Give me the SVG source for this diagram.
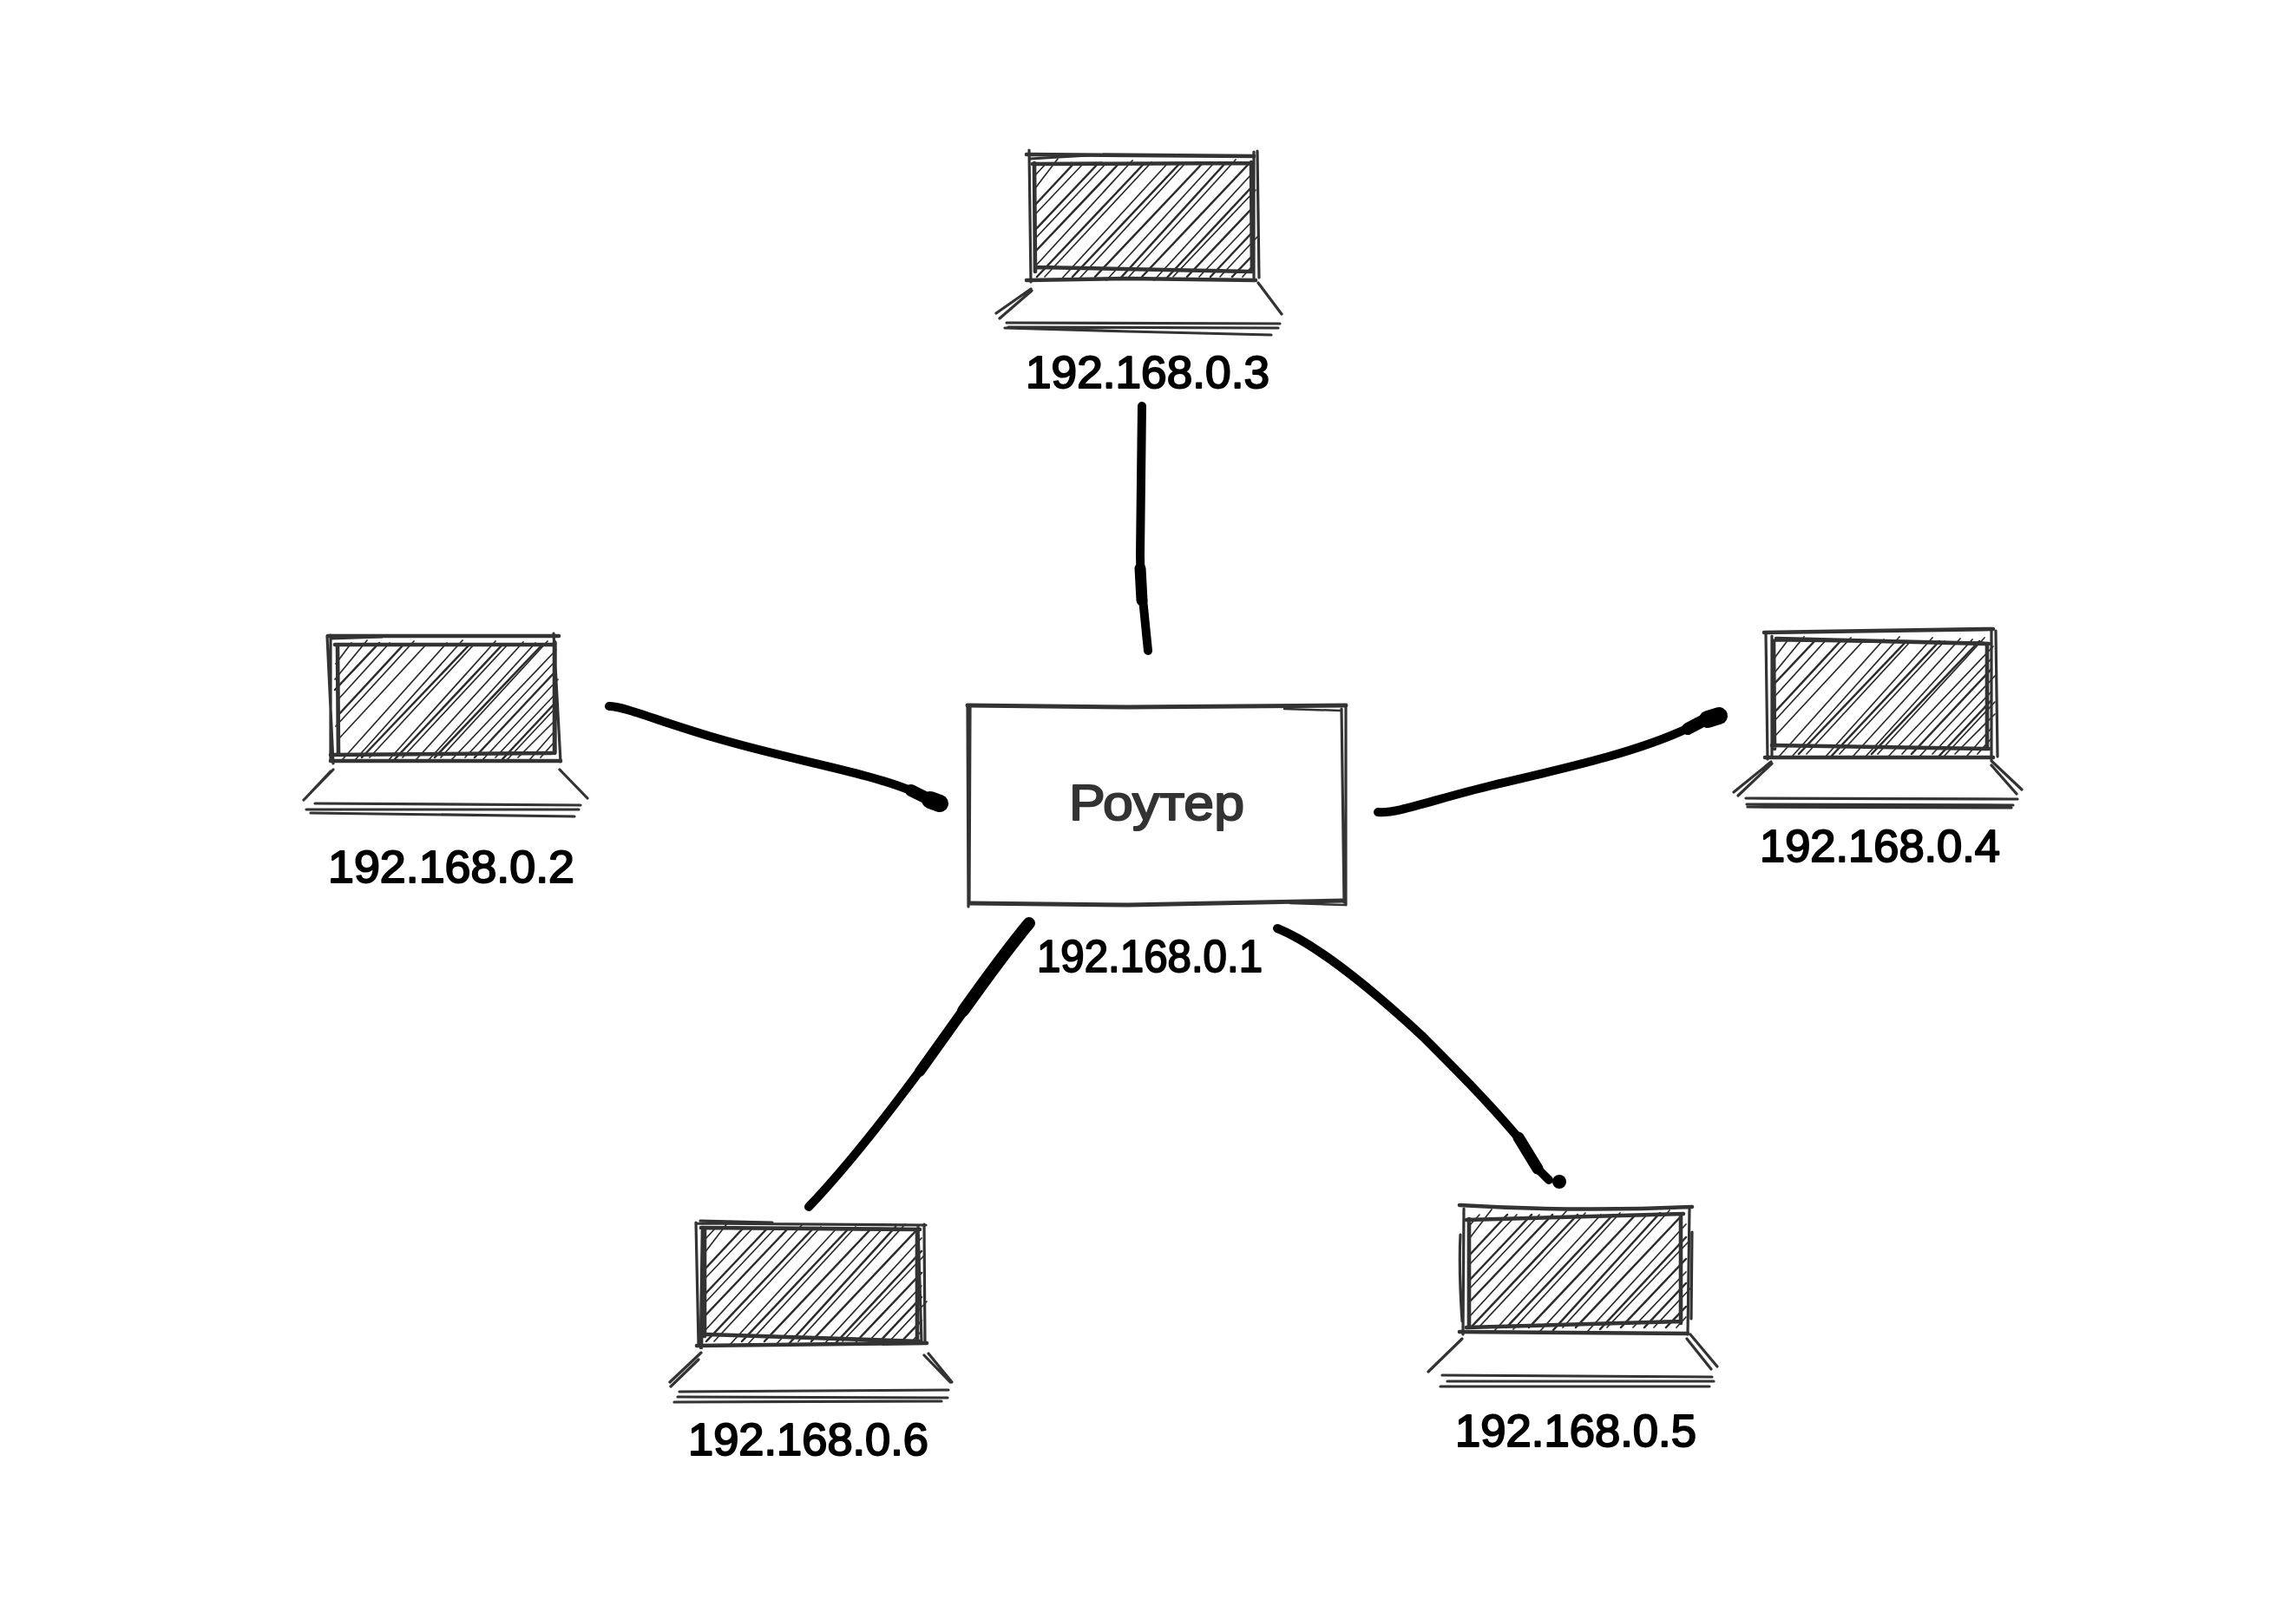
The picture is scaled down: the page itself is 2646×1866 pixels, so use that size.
<svg xmlns="http://www.w3.org/2000/svg" width="2646" height="1866" viewBox="0 0 2646 1866">
<style>
.s{fill:none;stroke:#333;stroke-width:3.2;stroke-linecap:round;stroke-linejoin:round}
.h{fill:none;stroke:#2b2b2b;stroke-width:1.7;stroke-linecap:round}
.h2{stroke-width:2.5}
.t{stroke-width:4.6}
.c{fill:none;stroke:#000;stroke-linecap:round;stroke-linejoin:round}
text{font-family:"Liberation Sans",Arial,sans-serif;fill:#000;stroke:#000;stroke-width:2;font-size:52px;stroke-linejoin:round}
</style>
<defs>
<g id="hatchA">
<path class="h" d="M8 21L20 8M8 36L34 2M8 66L63 8M8 94L89 8M8 126L120 4M19 138L142 6M37 142L160 8M59 140L182 6M90 142L213 8M116 138L239 3M145 142L258 19M167 138L262 38M197 138L258 74M221 138L264 92M247 138L258 126"/>
<path class="h h2" d="M8 55L52 8M8 84L80 8M8 109L104 8M10 138L133 8M51 138L174 8M77 138L200 8M105 141L228 6M131 138L254 8M159 140L258 34M183 138L258 59M210 138L258 87M235 138L258 114"/>
</g>
<g id="hatchB">
<path class="h" d="M6 30L24 6M5 48L42 3M8 72L68 6M6 102L96 4M8 118L110 8M14 140L134 6M29 140L152 3M45 138L165 8M66 142L190 4M83 138L204 8M99 140L222 5M112 142L236 6M127 138L250 4M140 140L260 14M155 138L258 28M174 142L262 48M190 138L258 66M204 140L262 78M216 138L262 92M230 140L258 108M242 138L258 120"/>
<path class="h h2" d="M5 60L56 6M8 90L84 8M36 138L160 8M74 140L198 8M120 138L244 8M166 138L258 40M198 140L258 76"/>
</g>
</defs>
<rect width="2646" height="1866" fill="#fff"/>
<g id="connectors">
<path class="c" stroke-width="10" d="M1316 468L1314 640L1315 690M1314 660L1323 750"/><path class="c" stroke-width="13" d="M1314 655L1316 692"/>
<path class="c" stroke-width="10" d="M702 814C720 814 760 832 830 852C920 878 1000 890 1054 913"/><path class="c" stroke-width="14" d="M1050 911L1068 920"/><path class="c" stroke-width="20" d="M1072 922L1083 926"/>
<path class="c" stroke-width="10" d="M1588 936C1610 938 1650 922 1720 905C1810 884 1890 866 1948 838"/><path class="c" stroke-width="14" d="M1945 840L1962 831"/><path class="c" stroke-width="20" d="M1968 829L1981 825"/>
<path class="c" stroke-width="10" d="M932 1391C990 1330 1050 1250 1110 1165"/><path class="c" stroke-width="12" d="M1060 1235L1110 1165"/><path class="c" stroke-width="14" d="M1110 1165C1135 1130 1160 1095 1186 1064"/>
<path class="c" stroke-width="10" d="M1472 1070C1510 1085 1570 1130 1640 1195C1680 1235 1720 1275 1757 1320"/><path class="c" stroke-width="13" d="M1750 1311L1772 1347"/><path class="c" stroke-width="10" d="M1772 1347L1785 1360"/><circle cx="1797" cy="1362" r="8"/>
</g>
<g id="router">
<path class="s" d="M1116 1045L1115 813M1118 815L1117 1042M1546 817L1549 1040M1551 815L1551 1043"/>
<path class="s" style="stroke-width:5" d="M1115 813L1300 815L1551 813M1118 1041L1300 1043L1549 1038"/>
<path class="s" style="stroke-width:2.5" d="M1480 817L1545 819M1487 1041L1549 1043"/>
<text x="1232" y="945" textLength="202" lengthAdjust="spacingAndGlyphs" style="font-size:58px;fill:#333;stroke:#333">Роутер</text>
<text x="1195" y="1120" textLength="260" lengthAdjust="spacingAndGlyphs">192.168.0.1</text>
</g>
<g id="pc2">
<use href="#hatchB" x="381" y="735"/>
<path class="s" d="M377 733L384 880M381 732L381 877M638 730L646 878M640 740L640 868M381 736L440 734"/>
<path class="s t" d="M378 733L644 733M381 877L646 877M386 743L639 743M389 743L390 870M381 870L636 868M639 740L639 868"/>
<path class="s" d="M384 887L350 922M381 889L352 920M645 887L677 920M363 926L669 928M353 933L667 933M358 937L662 941"/>
<text x="378" y="1017" textLength="284" lengthAdjust="spacingAndGlyphs">192.168.0.2</text>
</g>
<g id="pc3">
<use href="#hatchA" x="1185" y="181"/>
<path class="s" d="M1186 173L1188 325M1187 183L1255 179M1445 175L1445 320M1449 174L1451 320"/>
<path class="s t" d="M1183 178L1445 180M1183 323L1300 321L1447 323M1190 189L1442 188M1192 188L1193 313M1442 187L1443 313M1195 308L1442 313"/>
<path class="s" d="M1188 333L1148 361M1189 335L1152 367M1450 326L1477 362M1160 372L1475 373M1162 377L1473 378M1158 378L1300 382L1465 386"/>
<text x="1182" y="447" textLength="281" lengthAdjust="spacingAndGlyphs">192.168.0.3</text>
</g>
<g id="pc4">
<use href="#hatchB" x="2037" y="731"/>
<path class="s" d="M2035 730L2037 875M2042 733L2042 873M2295 725L2295 875M2300 727L2302 872M2042 738L2285 741"/>
<path class="s t" d="M2033 729L2297 725M2034 873L2297 873M2047 736L2292 742M2044 739L2045 863M2290 742L2290 863M2042 859L2292 863"/>
<path class="s" d="M2041 878L1998 913M2042 880L2003 917M2295 877L2330 910M2295 882L2324 915M2012 920L2325 921M2013 927L2320 928M2014 930L2318 931"/>
<text x="2028" y="993" textLength="277" lengthAdjust="spacingAndGlyphs">192.168.0.4</text>
</g>
<g id="pc5">
<use href="#hatchA" x="1685" y="1392"/>
<path class="s" d="M1687 1393L1686 1538M1683 1423Q1681 1463 1685 1523M1947 1392L1945 1538M1950 1420L1949 1520"/>
<path class="s t" d="M1682 1389Q1815 1397 1950 1391M1682 1535L1945 1537M1690 1406L1940 1399M1693 1405L1693 1530M1937 1400L1937 1525M1690 1530L1937 1523"/>
<path class="s" d="M1685 1543L1646 1581M1944 1543L1972 1578M1948 1538L1979 1575M1662 1585L1973 1587M1668 1592L1975 1592M1660 1598L1970 1598"/>
<text x="1677" y="1667" textLength="278" lengthAdjust="spacingAndGlyphs">192.168.0.5</text>
</g>
<g id="pc6">
<use href="#hatchA" x="804" y="1408"/>
<path class="s" d="M802 1409L805 1550M1065 1411L1066 1548M1058 1413L1062 1547M807 1407L890 1409M802 1410L1067 1412"/>
<path class="s t" d="M810 1415L808 1553M803 1551L1068 1548M808 1415L1060 1417M812 1417L812 1540M1057 1417L1057 1545M815 1538L1060 1546"/>
<path class="s" d="M808 1559L772 1593M805 1567L773 1598M1065 1562L1095 1593M1070 1560L1097 1593M783 1604L1093 1602M781 1610L1092 1611M777 1616L1085 1615"/>
<text x="793" y="1677" textLength="277" lengthAdjust="spacingAndGlyphs">192.168.0.6</text>
</g>
</svg>
